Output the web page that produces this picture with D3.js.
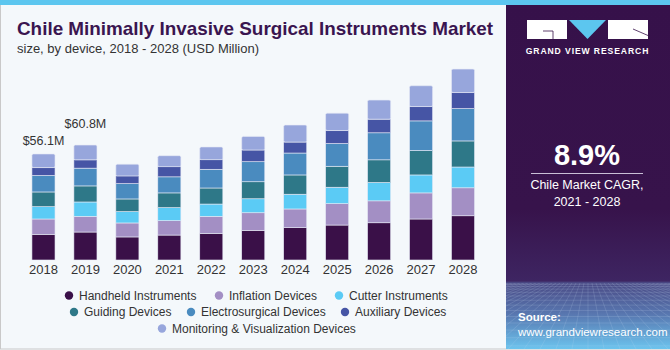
<!DOCTYPE html>
<html>
<head>
<meta charset="UTF-8">
<script src="https://d3js.org/d3.v7.min.js"></script>
<style>
  body { margin: 0; background: #fff; }
  text { font-family: "Liberation Sans", Arial, sans-serif; }
</style>
</head>
<body>
<svg id="canvas"></svg>
<script>
width = 670;
height = 350;

years = ["2018","2019","2020","2021","2022","2023","2024","2025","2026","2027","2028"];
seriesNames = ["Handheld Instruments","Inflation Devices","Cutter Instruments","Guiding Devices",
               "Electrosurgical Devices","Auxiliary Devices","Monitoring & Visualization Devices"];
colors = ["#3a1048","#a38fc4","#5bcbf5","#2e7888","#4a8bbf","#4655a5","#97a6dc"];

handheld     = [13.6, 14.8, 12.2, 13.2, 14.1, 15.7, 17.1, 18.5, 19.7, 21.7, 23.4];
inflation    = [ 8.1,  8.3,  7.4,  7.6,  9.0,  9.3,  9.9, 11.3, 11.6, 13.8, 14.8];
cutter       = [ 6.5,  7.6,  6.0,  6.9,  6.5,  7.4,  7.8,  8.7,  9.7,  9.5, 11.0];
guiding      = [ 7.8,  8.5,  6.7,  7.8,  8.5,  9.0, 10.2, 11.1, 12.0, 12.9, 13.8];
electro      = [ 8.7,  9.4,  8.1,  8.5,  9.9, 10.6, 11.6, 12.0, 14.3, 15.7, 17.1];
auxiliary    = [ 4.2,  4.4,  4.1,  5.4,  5.1,  6.2,  5.8,  6.9,  7.2,  7.6,  8.5];
monitoring   = [ 7.2,  7.8,  6.2,  5.8,  6.7,  7.2,  9.0,  9.2, 10.1, 11.0, 12.4];

valueLabels = ["$56.1M", "$60.8M"];

allSeries = [handheld, inflation, cutter, guiding, electro, auxiliary, monitoring];

rows = years.map((y, i) => {
    var r = {year: y};
    seriesNames.forEach((s, k) => r[s] = allSeries[k][i]);
    return r;
});

canvas = d3.select("#canvas").attr("width", width).attr("height", height);

// background + frame
canvas.append("rect").attr("x", 0).attr("y", 0).attr("width", width).attr("height", height)
    .attr("fill", "#f4f8fb");
canvas.append("rect").attr("x", 0.5).attr("y", 0.5).attr("width", width - 1).attr("height", height - 1.5)
    .attr("fill", "none").attr("stroke", "#c9c9c9");

// right panel
defs = canvas.append("defs");
grad = defs.append("linearGradient").attr("id", "panelGrad")
    .attr("x1", 0).attr("y1", 0).attr("x2", 0).attr("y2", 1);
grad.append("stop").attr("offset", "0%").attr("stop-color", "#36114a");
grad.append("stop").attr("offset", "60%").attr("stop-color", "#37134b");
grad.append("stop").attr("offset", "80.5%").attr("stop-color", "#3e2562");
grad.append("stop").attr("offset", "81%").attr("stop-color", "#4a4a85");
grad.append("stop").attr("offset", "90%").attr("stop-color", "#5877b0");
grad.append("stop").attr("offset", "100%").attr("stop-color", "#6cc4ee");
defs.append("clipPath").attr("id", "gridClip").append("rect")
    .attr("x", 506).attr("y", 283).attr("width", 164).attr("height", 66);

panel = canvas.append("g");
panel.append("rect").attr("x", 506).attr("y", 0).attr("width", 164).attr("height", 349)
    .attr("fill", "url(#panelGrad)");

// perspective grid in lower part of panel
gridG = panel.append("g").attr("clip-path", "url(#gridClip)")
    .attr("stroke", "#c8d8f4").attr("stroke-opacity", 0.28).attr("stroke-width", 0.6);
d3.range(-20, 21).forEach(i => {
    gridG.append("line").attr("x1", 588 + i * 4).attr("y1", 283).attr("x2", 588 + i * 16).attr("y2", 349);
});
d3.range(0, 14).forEach(i => {
    var yy = 283 + i * 1.2 + i * i * 0.28;
    gridG.append("line").attr("x1", 506).attr("y1", yy).attr("x2", 670).attr("y2", yy);
});

// top strip
canvas.append("rect").attr("x", 0).attr("y", 0).attr("width", width).attr("height", 5)
    .attr("fill", "#5cc6ef");

// logo
logo = panel.append("g");
logo.append("rect").attr("x", 527).attr("y", 20).attr("width", 40).attr("height", 19).attr("fill", "#fff");
logo.append("path").attr("d", "M543,31 H553 V39").attr("fill", "none").attr("stroke", "#37124a").attr("stroke-width", 0.8);
logo.append("path").attr("d", "M569,20 L606,20 L587.5,39 Z").attr("fill", "#5cc6ef");
logo.append("rect").attr("x", 608).attr("y", 20).attr("width", 40).attr("height", 19).attr("fill", "#fff");
logo.append("path").attr("d", "M633,29 L648,35.5").attr("stroke", "#37124a").attr("stroke-width", 0.8);
panel.append("text").attr("x", 587.5).attr("y", 54).attr("text-anchor", "middle")
    .attr("fill", "#fff").attr("font-size", 8.6).attr("font-weight", "bold").attr("letter-spacing", 0.9)
    .text("GRAND VIEW RESEARCH");

panel.append("text").attr("x", 587).attr("y", 165).attr("text-anchor", "middle")
    .attr("fill", "#fff").attr("font-size", 29).attr("font-weight", "bold").text("8.9%");
panel.append("line").attr("x1", 531).attr("x2", 643).attr("y1", 173.5).attr("y2", 173.5)
    .attr("stroke", "#c9bfd6").attr("stroke-width", 1);
panel.append("text").attr("x", 587).attr("y", 189).attr("text-anchor", "middle")
    .attr("fill", "#fff").attr("font-size", 12.5).text("Chile Market CAGR,");
panel.append("text").attr("x", 587).attr("y", 206).attr("text-anchor", "middle")
    .attr("fill", "#fff").attr("font-size", 12.5).text("2021 - 2028");
panel.append("text").attr("x", 518).attr("y", 321).attr("fill", "#fff")
    .attr("font-size", 11.5).attr("font-weight", "bold").text("Source:");
panel.append("text").attr("x", 518).attr("y", 336).attr("fill", "#fff")
    .attr("font-size", 11.5).text("www.grandviewresearch.com");

// titles
canvas.append("text").attr("x", 17).attr("y", 35).attr("fill", "#3a1550")
    .attr("font-size", 19).attr("font-weight", 900).attr("textLength", 476).attr("lengthAdjust", "spacingAndGlyphs")
    .attr("font-family", "'DejaVu Sans', sans-serif")
    .text("Chile Minimally Invasive Surgical Instruments Market");
canvas.append("text").attr("x", 17).attr("y", 52.5).attr("fill", "#333")
    .attr("font-size", 13).text("size, by device, 2018 - 2028 (USD Million)");

// scales
x = d3.scaleBand().domain(years).range([22.5, 484]).paddingInner(0.45).paddingOuter(0.225);
y = d3.scaleLinear().domain([0, 101]).range([260, 260 - 101 * 1.89]);

stack = d3.stack().keys(seriesNames);
layers = stack(rows);

barsG = canvas.append("g");
barsG.selectAll("g").data(layers).enter().append("g")
    .attr("fill", (d, i) => colors[i])
    .selectAll("rect").data(d => d).enter().append("rect")
        .attr("x", d => x(d.data.year))
        .attr("width", x.bandwidth())
        .attr("y", d => y(d[1]))
        .attr("height", d => y(d[0]) - y(d[1]))
        .attr("rx", (d, i, n) => d[1] === d3.sum(allSeries, s => s[i]) ? 1.5 : 0)
        .attr("stroke", "#e6e9f5").attr("stroke-width", 0.6);

// x axis labels
xAxis = canvas.append("g").attr("transform", "translate(0,260)")
    .call(d3.axisBottom(x).tickSize(0).tickPadding(5));
xAxis.select(".domain").remove();
xAxis.selectAll("text").attr("font-size", 13).attr("fill", "#333")
    .attr("font-family", "'Liberation Sans', Arial, sans-serif");

// value labels
labelGap = [9, 17];
valueLabels.forEach((t, i) => {
    var total = d3.sum(allSeries, s => s[i]);
    canvas.append("text").attr("x", x(years[i]) + x.bandwidth() / 2).attr("y", y(total) - labelGap[i])
        .attr("text-anchor", "middle").attr("font-size", 12.5).attr("fill", "#333").text(t);
});

// legend
legendRows = [[0, 1, 2], [3, 4, 5], [6]];
legendX = [[69, 219, 339], [74, 191, 345], [162]];
legendY = [295.5, 312, 328.5];
legend = canvas.append("g");
legendRows.forEach((r, ri) => {
    r.forEach((k, j) => {
        legend.append("circle").attr("cx", legendX[ri][j]).attr("cy", legendY[ri]).attr("r", 4.2)
            .attr("fill", colors[k]);
        legend.append("text").attr("x", legendX[ri][j] + 10).attr("y", legendY[ri] + 4.3)
            .attr("font-size", 12).attr("fill", "#333").text(seriesNames[k]);
    });
});
</script>
</body>
</html>
